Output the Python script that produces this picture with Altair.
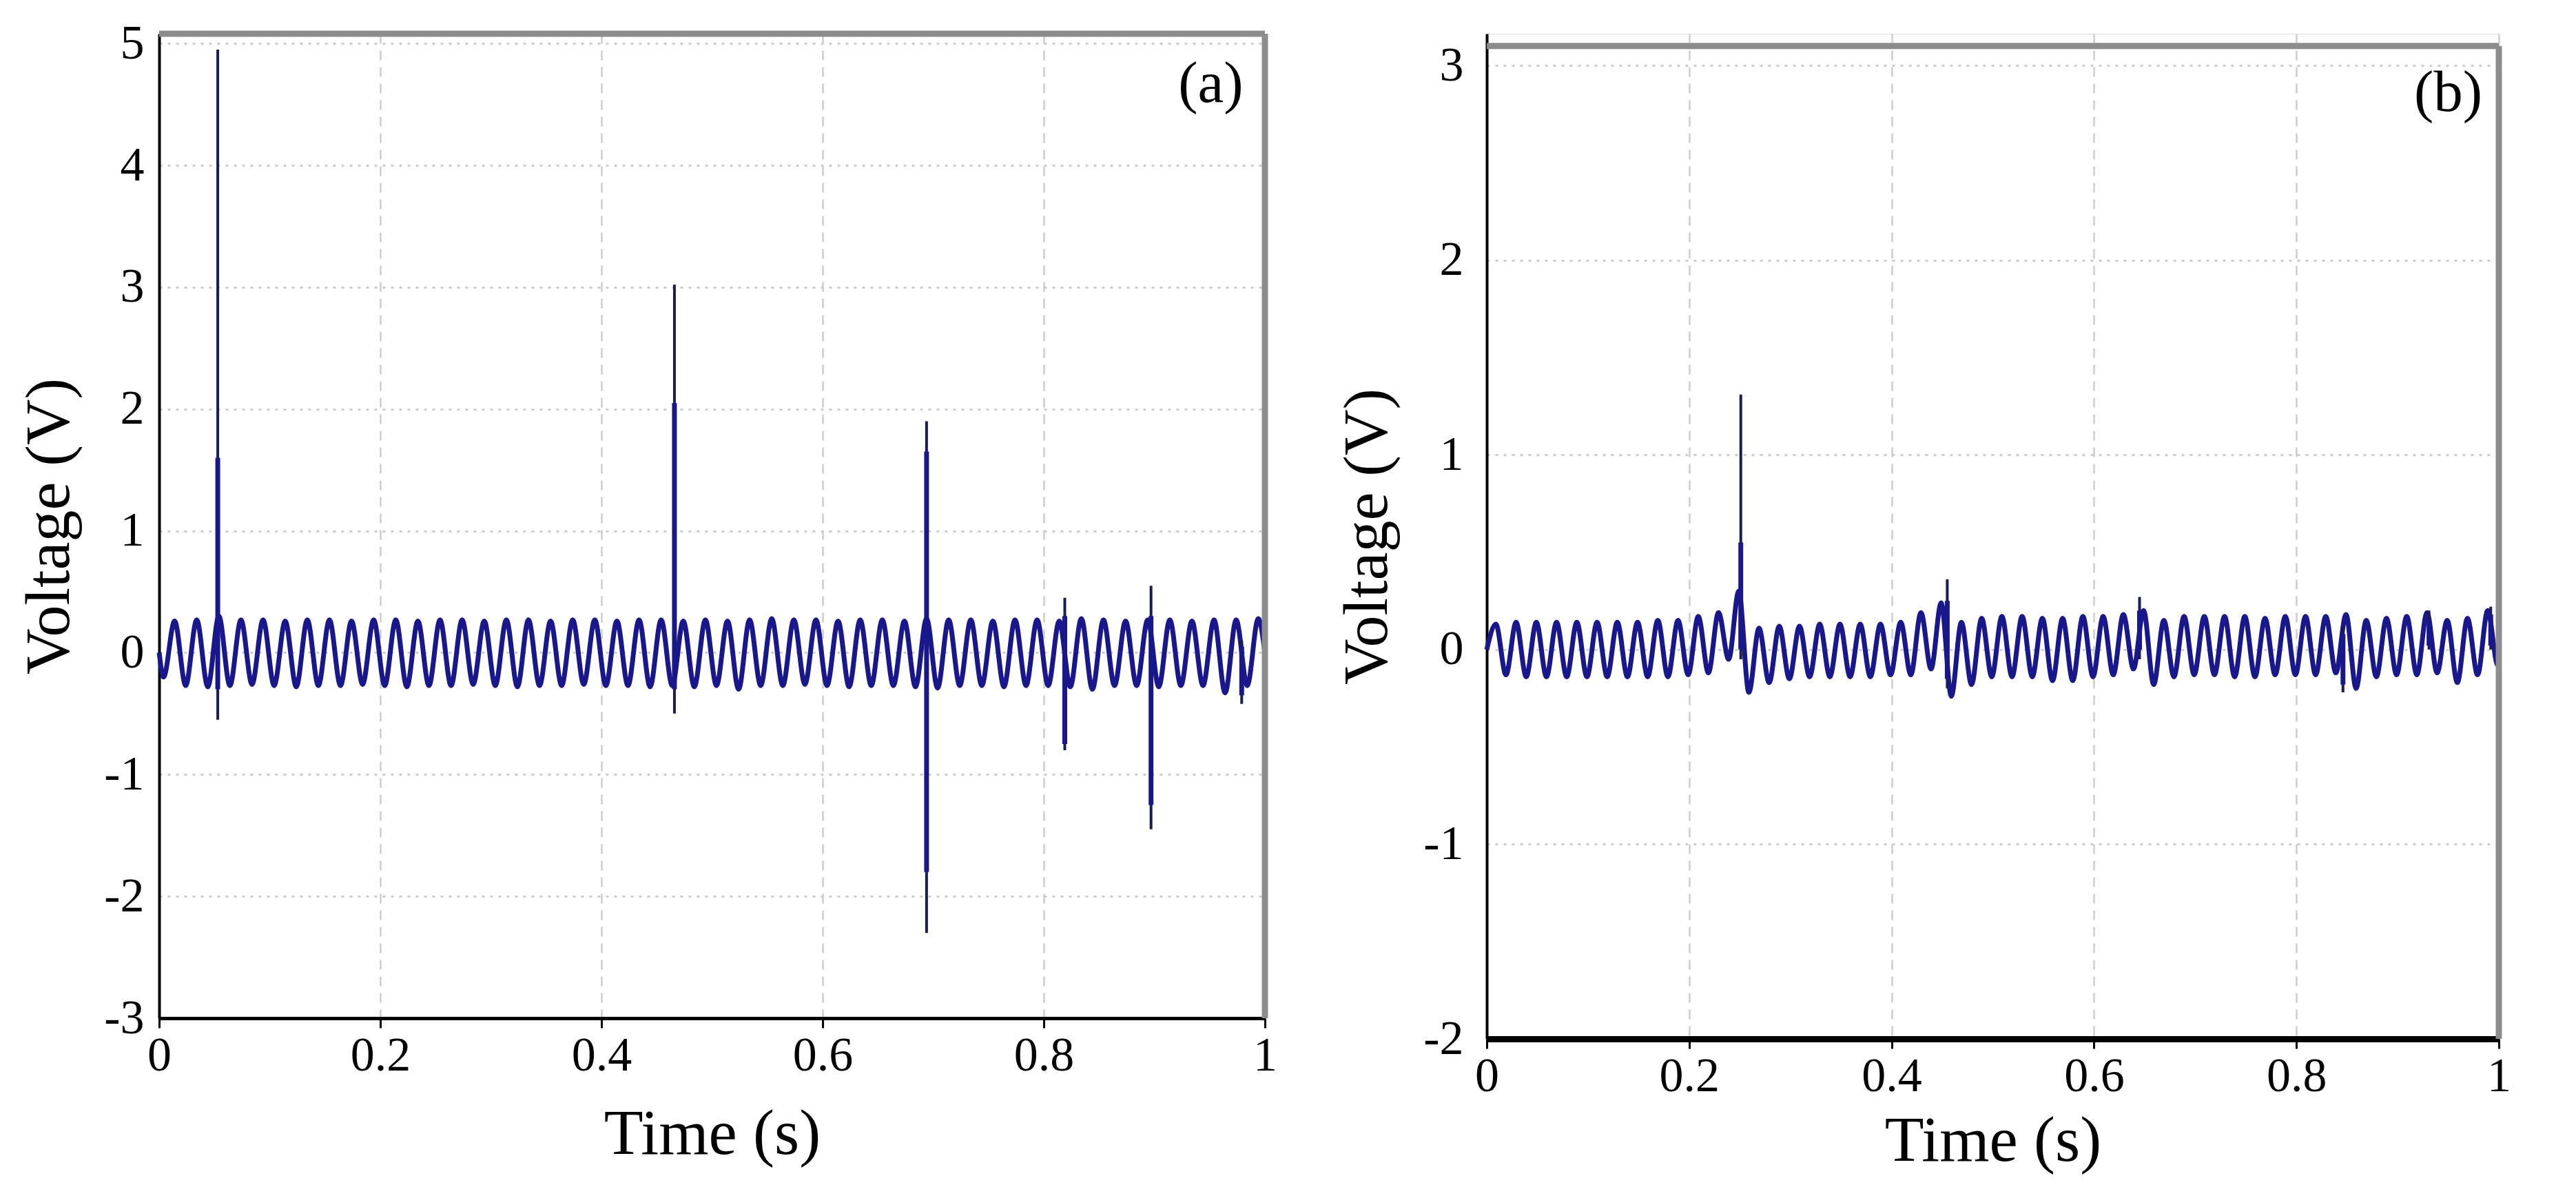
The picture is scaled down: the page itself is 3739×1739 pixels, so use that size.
import altair as alt
import pandas as pd

# ---------------- Panel (a) data ----------------
# 50 Hz waveform: peak values (t = 0.014 + 0.02k) and trough values (t = 0.004 + 0.02k)
a_peaks = [0.26, 0.27, 0.30, 0.27, 0.27, 0.26, 0.27, 0.27, 0.26, 0.27,
           0.27, 0.26, 0.27, 0.27, 0.26, 0.27, 0.27, 0.26, 0.27, 0.27,
           0.26, 0.27, 0.27, 0.26, 0.27, 0.26, 0.27, 0.28, 0.27, 0.27,
           0.26, 0.27, 0.27, 0.26, 0.28, 0.27, 0.27, 0.26, 0.27, 0.27,
           0.26, 0.28, 0.27, 0.26, 0.27, 0.27, 0.26, 0.27, 0.27, 0.28]
a_troughs = [-0.20, -0.27, -0.28, -0.27, -0.26, -0.27, -0.28, -0.27, -0.27, -0.26,
             -0.27, -0.28, -0.27, -0.27, -0.26, -0.27, -0.28, -0.27, -0.27, -0.26,
             -0.27, -0.27, -0.28, -0.27, -0.28, -0.27, -0.30, -0.27, -0.27, -0.26,
             -0.27, -0.28, -0.27, -0.27, -0.28, -0.29, -0.27, -0.27, -0.28, -0.27,
             -0.27, -0.28, -0.30, -0.27, -0.27, -0.28, -0.27, -0.27, -0.33, -0.27]
a_peak_t = [round(0.014 + 0.02 * i, 3) for i in range(50)]
a_trough_t = [round(0.004 + 0.02 * i, 3) for i in range(50)]
a_edge_t = [0.0, 1.0]
a_edge_v = [0.0, 0.0]

# transients (thin full excursion + thicker core)
a_spike_t = [0.053, 0.466, 0.694, 0.819, 0.897, 0.979]
a_spike_lo = [-0.55, -0.50, -2.30, -0.80, -1.45, -0.42]
a_spike_hi = [4.95, 3.02, 1.90, 0.45, 0.55, 0.10]
a_core_lo = [-0.30, -0.30, -1.80, -0.75, -1.25, -0.35]
a_core_hi = [1.60, 2.05, 1.65, 0.30, 0.30, 0.05]

# ---------------- Panel (b) data ----------------
b_peaks = [0.13, 0.14, 0.14, 0.14, 0.14, 0.14, 0.14, 0.14, 0.15, 0.15,
           0.17, 0.19, 0.30, 0.11, 0.12, 0.12, 0.13, 0.13, 0.13, 0.13,
           0.14, 0.19, 0.24, 0.14, 0.16, 0.17, 0.17, 0.16, 0.16, 0.17,
           0.17, 0.18, 0.20, 0.15, 0.17, 0.17, 0.17, 0.17, 0.16, 0.17,
           0.17, 0.17, 0.18, 0.15, 0.16, 0.17, 0.19, 0.15, 0.16, 0.20]
b_troughs = [-0.13, -0.14, -0.14, -0.14, -0.14, -0.14, -0.14, -0.14, -0.14, -0.13,
             -0.12, -0.05, -0.22, -0.17, -0.15, -0.14, -0.14, -0.14, -0.14, -0.13,
             -0.13, -0.10, -0.24, -0.18, -0.14, -0.14, -0.14, -0.16, -0.16, -0.14,
             -0.13, -0.10, -0.18, -0.14, -0.13, -0.13, -0.14, -0.14, -0.13, -0.13,
             -0.13, -0.12, -0.20, -0.14, -0.13, -0.13, -0.12, -0.17, -0.13, -0.08]
b_peak_t = [round(0.009 + 0.02 * i, 3) for i in range(50)]
b_trough_t = [round(0.019 + 0.02 * i, 3) for i in range(50)]
b_edge_t = [0.0, 1.0]
b_edge_v = [0.0, 0.0]

b_spike_t = [0.251, 0.455, 0.645, 0.846, 0.931, 0.992]
b_spike_lo = [-0.05, -0.20, -0.05, -0.22, 0.00, 0.00]
b_spike_hi = [1.31, 0.36, 0.27, 0.12, 0.20, 0.22]
b_core_lo = [0.00, -0.15, 0.00, -0.18, 0.02, 0.02]
b_core_hi = [0.55, 0.25, 0.20, 0.08, 0.15, 0.18]

x_ticks = [0, 0.2, 0.4, 0.6, 0.8, 1]
a_y_ticks = [-3, -2, -1, 0, 1, 2, 3, 4, 5]
b_y_ticks = [-2, -1, 0, 1, 2, 3]

FONT = "Liberation Serif"
WAVE = "#18188c"
SPIKE = "#1c1c55"
BORDER = "#8c8c8c"
GRID = "#cdcdcd"


def wave_df(pt, pv, tt, tv, et, ev):
    df = pd.DataFrame({"t": pt + tt + et, "v": pv + tv + ev})
    return df.sort_values("t").reset_index(drop=True)


def panel(df, st, slo, shi, clo, chi, ymin, ymax, yticks, width, height,
          label, label_x, label_y, border_top, bottom_w, ylab_pad, ytitle_pad, xtitle_pad):
    xs = alt.Scale(domain=[0, 1], nice=False, zero=False)
    ys = alt.Scale(domain=[ymin, ymax], nice=False, zero=False)
    xaxis = alt.Axis(values=x_ticks, labelExpr="'' + datum.value", title="Time (s)",
                     titleFontSize=93, labelFontSize=70, titleFont=FONT, labelFont=FONT,
                     titleFontWeight="normal", titleColor="black", labelColor="black",
                     tickSize=14, tickWidth=3, tickColor="black",
                     domainColor="black", domainWidth=bottom_w,
                     grid=True, gridColor=GRID, gridDash=[14, 10], gridWidth=2.5,
                     labelPadding=6, titlePadding=xtitle_pad, labelFlush=False, labelOverlap=False)
    yaxis = alt.Axis(values=yticks, labelExpr="'' + datum.value", title="Voltage (V)",
                     titleFontSize=92, labelFontSize=70, titleFont=FONT, labelFont=FONT,
                     titleFontWeight="normal", titleColor="black", labelColor="black",
                     ticks=False, domainColor="black", domainWidth=4,
                     grid=True, gridColor=GRID, gridDash=[4, 8], gridWidth=3,
                     labelPadding=ylab_pad, titlePadding=ytitle_pad,
                     labelFlush=False, labelOverlap=False)

    line = alt.Chart(df).mark_line(interpolate="monotone", strokeWidth=7, color=WAVE).encode(
        x=alt.X("t:Q", scale=xs, axis=xaxis),
        y=alt.Y("v:Q", scale=ys, axis=yaxis),
    )
    sdf = pd.DataFrame({"t": st, "lo": slo, "hi": shi, "clo": clo, "chi": chi})
    spikes = alt.Chart(sdf).mark_rule(strokeWidth=4, color=SPIKE).encode(
        x="t:Q", y="lo:Q", y2="hi:Q")
    cores = alt.Chart(sdf).mark_rule(strokeWidth=7, color=WAVE).encode(
        x="t:Q", y="clo:Q", y2="chi:Q")
    top = alt.Chart().mark_rule(strokeWidth=9, color=BORDER).encode(
        x=alt.datum(0), x2=alt.datum(1), y=alt.datum(border_top))
    right = alt.Chart().mark_rule(strokeWidth=9, color=BORDER).encode(
        x=alt.datum(1), y=alt.datum(ymin), y2=alt.datum(border_top))
    txt = alt.Chart().mark_text(text=label, font=FONT, fontSize=85, color="black",
                                align="center", baseline="middle").encode(
        x=alt.datum(label_x), y=alt.datum(label_y))
    return alt.layer(line, spikes, cores, top, right, txt).properties(width=width, height=height)


df_a = wave_df(a_peak_t, a_peaks, a_trough_t, a_troughs, a_edge_t, a_edge_v)
df_b = wave_df(b_peak_t, b_peaks, b_trough_t, b_troughs, b_edge_t, b_edge_v)

chart_a = panel(df_a, a_spike_t, a_spike_lo, a_spike_hi, a_core_lo, a_core_hi,
                -3, 5.08, a_y_ticks, 1605, 1429, "(a)", 0.951, 4.67, 5.08, 5, 22, 32, 34)
chart_b = panel(df_b, b_spike_t, b_spike_lo, b_spike_hi, b_core_lo, b_core_hi,
                -2, 3.163, b_y_ticks, 1469, 1459, "(b)", 0.950, 2.86, 3.10, 9, 34, 34, 14)

chart = alt.hconcat(chart_a, chart_b, spacing=84).configure_view(stroke=None).configure(
    background="white", font=FONT, padding={"left": 17, "top": 19, "right": 5, "bottom": 5})

chart.save("out.html", embed_options={"renderer": "svg", "actions": False})
